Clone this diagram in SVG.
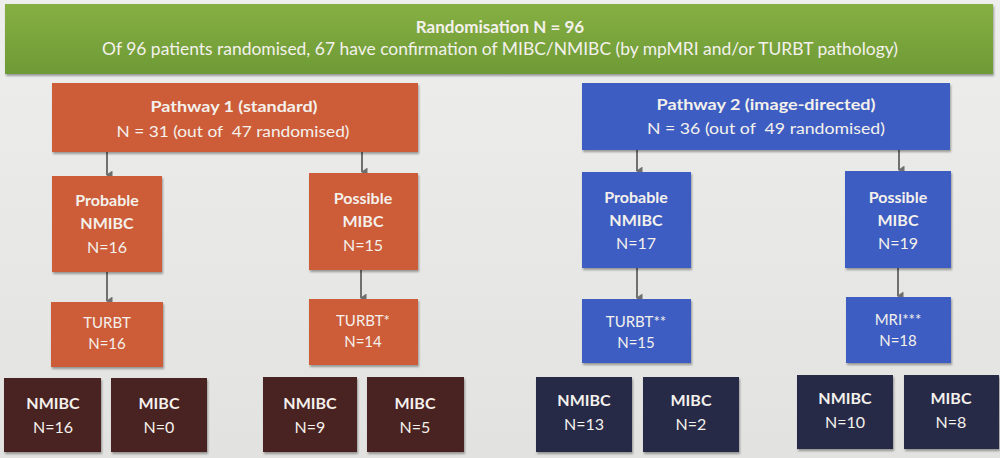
<svg xmlns="http://www.w3.org/2000/svg" width="1000" height="458" viewBox="0 0 1000 458">
<defs>
<linearGradient id="bg" x1="0" y1="0" x2="0" y2="1">
<stop offset="0" stop-color="#eeeeec"/><stop offset="1" stop-color="#e2e2e0"/>
</linearGradient>
<linearGradient id="gr" x1="0" y1="0" x2="0" y2="1">
<stop offset="0" stop-color="#86b042"/><stop offset="1" stop-color="#6e9a36"/>
</linearGradient>
<filter id="sh" x="-10%" y="-10%" width="130%" height="130%">
<feDropShadow dx="1" dy="2" stdDeviation="1.2" flood-color="#000" flood-opacity="0.35"/>
</filter>
<marker id="ah" markerWidth="9" markerHeight="8" refX="4.5" refY="6" orient="auto" markerUnits="userSpaceOnUse" viewBox="0 0 9 8">
<path d="M0,0.5 L9,0.5 L4.5,7 Z" fill="#6f6f6f"/>
</marker>
<style>
text{font-family:Lato,"Open Sans","Liberation Sans",sans-serif;fill:#f4f1ec;text-anchor:middle}
.b{font-weight:bold}
.or{fill:#cd5b37;filter:url(#sh)}
.bl{fill:#3d5dc2;filter:url(#sh)}
.mr{fill:#4a2424;filter:url(#sh)}
.nv{fill:#252c47;filter:url(#sh)}
.t17{font-size:17px}
.t16{font-size:16px}
.t15{font-size:15px}
.c{stroke:#707070;stroke-width:2;fill:none}
</style>
</defs>
<rect width="1000" height="458" fill="url(#bg)"/>
<g id="randomisation">
<rect x="5" y="4" width="988" height="70" fill="url(#gr)" filter="url(#sh)"/>
<text class="t17 b" x="500" y="33" fill="#eef2e4">Randomisation N = 96</text>
<text class="t17" x="500" y="55" textLength="796" lengthAdjust="spacingAndGlyphs">Of 96 patients randomised, 67 have confirmation of MIBC/NMIBC (by mpMRI and/or TURBT pathology)</text>
</g>
<g id="connectors">
<line class="c" x1="107" y1="152" x2="107" y2="175" marker-end="url(#ah)"/>
<line class="c" x1="362" y1="152" x2="362" y2="172" marker-end="url(#ah)"/>
<line class="c" x1="107" y1="272" x2="107" y2="301" marker-end="url(#ah)"/>
<line class="c" x1="361" y1="270" x2="361" y2="298" marker-end="url(#ah)"/>
<line class="c" x1="637" y1="150" x2="637" y2="171" marker-end="url(#ah)"/>
<line class="c" x1="899" y1="150" x2="899" y2="170" marker-end="url(#ah)"/>
<line class="c" x1="637" y1="268" x2="637" y2="298" marker-end="url(#ah)"/>
<line class="c" x1="898" y1="268" x2="898" y2="296" marker-end="url(#ah)"/>
</g>
<g id="pathway1">
<rect class="or" x="52" y="83" width="366" height="69"/>
<text class="t16 b" x="234" y="112" textLength="167" lengthAdjust="spacingAndGlyphs">Pathway 1 (standard)</text>
<text class="t16" x="233" y="137" textLength="233" lengthAdjust="spacingAndGlyphs">N = 31 (out of&#160; 47 randomised)</text>
</g>
<g id="p1-probable">
<rect class="or" x="52" y="176" width="110" height="96"/>
<text class="t16 b" x="107" y="206">Probable</text>
<text class="t16 b" x="107" y="229">NMIBC</text>
<text class="t16" x="107" y="253">N=16</text>
</g>
<g id="p1-possible">
<rect class="or" x="309" y="173" width="109" height="97"/>
<text class="t16 b" x="363" y="204">Possible</text>
<text class="t16 b" x="363" y="227">MIBC</text>
<text class="t16" x="363" y="251">N=15</text>
</g>
<g id="p1-turbt">
<rect class="or" x="51" y="302" width="112" height="65"/>
<text class="t15" x="107" y="328">TURBT</text>
<text class="t15" x="107" y="349">N=16</text>
</g>
<g id="p1-turbt-star">
<rect class="or" x="309" y="299" width="109" height="66"/>
<text class="t15" x="363" y="326">TURBT*</text>
<text class="t15" x="363" y="347">N=14</text>
</g>
<g id="p1-a-nmibc">
<rect class="mr" x="4" y="378" width="97" height="74"/>
<text class="t16 b" x="53" y="409">NMIBC</text>
<text class="t16" x="53" y="433">N=16</text>
</g>
<g id="p1-a-mibc">
<rect class="mr" x="111" y="378" width="96" height="74"/>
<text class="t16 b" x="159" y="409">MIBC</text>
<text class="t16" x="159" y="433">N=0</text>
</g>
<g id="p1-b-nmibc">
<rect class="mr" x="263" y="377" width="94" height="75"/>
<text class="t16 b" x="310" y="409">NMIBC</text>
<text class="t16" x="310" y="433">N=9</text>
</g>
<g id="p1-b-mibc">
<rect class="mr" x="367" y="377" width="97" height="75"/>
<text class="t16 b" x="415" y="409">MIBC</text>
<text class="t16" x="415" y="433">N=5</text>
</g>
<g id="pathway2">
<rect class="bl" x="582" y="83" width="368" height="67"/>
<text class="t16 b" x="766" y="110" textLength="219" lengthAdjust="spacingAndGlyphs">Pathway 2 (image-directed)</text>
<text class="t16" x="766" y="134" textLength="238" lengthAdjust="spacingAndGlyphs">N = 36 (out of&#160; 49 randomised)</text>
</g>
<g id="p2-probable">
<rect class="bl" x="582" y="172" width="109" height="96"/>
<text class="t16 b" x="636" y="203">Probable</text>
<text class="t16 b" x="636" y="226">NMIBC</text>
<text class="t16" x="636" y="249">N=17</text>
</g>
<g id="p2-possible">
<rect class="bl" x="845" y="171" width="106" height="97"/>
<text class="t16 b" x="898" y="203">Possible</text>
<text class="t16 b" x="898" y="226">MIBC</text>
<text class="t16" x="898" y="249">N=19</text>
</g>
<g id="p2-turbt">
<rect class="bl" x="582" y="299" width="109" height="64"/>
<text class="t15" x="636" y="327">TURBT**</text>
<text class="t15" x="636" y="348">N=15</text>
</g>
<g id="p2-mri">
<rect class="bl" x="846" y="297" width="105" height="66"/>
<text class="t15" x="898" y="325">MRI***</text>
<text class="t15" x="898" y="346">N=18</text>
</g>
<g id="p2-a-nmibc">
<rect class="nv" x="536" y="377" width="96" height="75"/>
<text class="t16 b" x="584" y="406">NMIBC</text>
<text class="t16" x="584" y="430">N=13</text>
</g>
<g id="p2-a-mibc">
<rect class="nv" x="643" y="377" width="96" height="75"/>
<text class="t16 b" x="691" y="406">MIBC</text>
<text class="t16" x="691" y="430">N=2</text>
</g>
<g id="p2-b-nmibc">
<rect class="nv" x="797" y="375" width="96" height="74"/>
<text class="t16 b" x="845" y="404">NMIBC</text>
<text class="t16" x="845" y="428">N=10</text>
</g>
<g id="p2-b-mibc">
<rect class="nv" x="904" y="375" width="95" height="74"/>
<text class="t16 b" x="951" y="404">MIBC</text>
<text class="t16" x="951" y="428">N=8</text>
</g>
</svg>
